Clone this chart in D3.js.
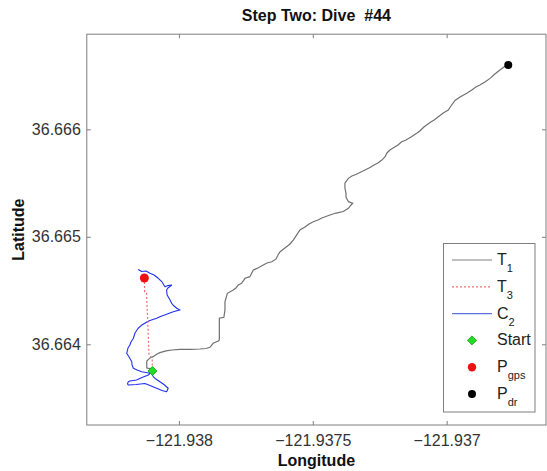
<!DOCTYPE html>
<html>
<head>
<meta charset="utf-8">
<script src="https://cdn.jsdelivr.net/npm/d3@7"></script>
<style>
  body { margin: 0; background: #fff; }
  text { font-family: "Liberation Sans", Arial, sans-serif; }
</style>
</head>
<body>
<div id="chart"></div>
<script>
// axis ticks
var lonTicks = [-121.938, -121.9375, -121.937];
var latTicks = [36.664, 36.665, 36.666];

// T1: dead-reckoned track (lon, lat)
var t1Track = [
  [-121.938100, 36.663770], [-121.938112, 36.663775], [-121.938120, 36.663780],
  [-121.938120, 36.663817], [-121.938120, 36.663845], [-121.938108, 36.663873],
  [-121.938096, 36.663885], [-121.938082, 36.663910], [-121.938071, 36.663922],
  [-121.938048, 36.663938], [-121.938026, 36.663947], [-121.937996, 36.663953],
  [-121.937959, 36.663953], [-121.937921, 36.663956], [-121.937899, 36.663961],
  [-121.937884, 36.663972], [-121.937872, 36.664009], [-121.937853, 36.664031],
  [-121.937849, 36.664040], [-121.937849, 36.664133], [-121.937849, 36.664242],
  [-121.937832, 36.664251], [-121.937828, 36.664319], [-121.937828, 36.664396],
  [-121.937819, 36.664474], [-121.937797, 36.664505], [-121.937787, 36.664524],
  [-121.937778, 36.664552], [-121.937766, 36.664567], [-121.937753, 36.664614],
  [-121.937735, 36.664629], [-121.937722, 36.664691], [-121.937705, 36.664710],
  [-121.937685, 36.664738], [-121.937671, 36.664756], [-121.937653, 36.664768],
  [-121.937637, 36.664794], [-121.937630, 36.664831], [-121.937622, 36.664861],
  [-121.937604, 36.664896], [-121.937585, 36.664933], [-121.937573, 36.664970],
  [-121.937563, 36.665007], [-121.937548, 36.665063], [-121.937529, 36.665091],
  [-121.937514, 36.665119], [-121.937498, 36.665140], [-121.937481, 36.665156],
  [-121.937466, 36.665175], [-121.937451, 36.665189], [-121.937436, 36.665203],
  [-121.937413, 36.665221], [-121.937386, 36.665235], [-121.937367, 36.665265],
  [-121.937357, 36.665296], [-121.937351, 36.665312], [-121.937367, 36.665327],
  [-121.937376, 36.665370], [-121.937376, 36.665405], [-121.937380, 36.665454],
  [-121.937380, 36.665498], [-121.937367, 36.665544], [-121.937354, 36.665566],
  [-121.937339, 36.665580], [-121.937324, 36.665598], [-121.937305, 36.665621],
  [-121.937290, 36.665640], [-121.937274, 36.665663], [-121.937257, 36.665687],
  [-121.937242, 36.665714], [-121.937230, 36.665745], [-121.937223, 36.665780],
  [-121.937212, 36.665807], [-121.937197, 36.665831], [-121.937182, 36.665854],
  [-121.937168, 36.665885], [-121.937152, 36.665900], [-121.937133, 36.665928],
  [-121.937112, 36.665963], [-121.937100, 36.665984], [-121.937085, 36.666021],
  [-121.937075, 36.666040], [-121.937062, 36.666063], [-121.937047, 36.666087],
  [-121.937025, 36.666128], [-121.937010, 36.666156], [-121.936994, 36.666180],
  [-121.936984, 36.666217], [-121.936969, 36.666268], [-121.936950, 36.666300],
  [-121.936925, 36.666335], [-121.936906, 36.666366], [-121.936891, 36.666393],
  [-121.936876, 36.666412], [-121.936857, 36.666440], [-121.936838, 36.666474],
  [-121.936820, 36.666514], [-121.936801, 36.666552], [-121.936786, 36.666580],
  [-121.936770, 36.666598]
];

// T3: correction line (lon, lat)
var t3Track = [
  [-121.938129, 36.664617], [-121.938128, 36.664487], [-121.938121, 36.664477],
  [-121.938115, 36.664133], [-121.938112, 36.663900], [-121.938100, 36.663873],
  [-121.938099, 36.663752]
];

// C2: corrected track (lon, lat)
var c2Track = [
  [-121.938152, 36.664696], [-121.938139, 36.664677], [-121.938123, 36.664682],
  [-121.938108, 36.664660], [-121.938093, 36.664645], [-121.938077, 36.664614],
  [-121.938063, 36.664580], [-121.938052, 36.664536], [-121.938041, 36.664547],
  [-121.938027, 36.664552], [-121.938041, 36.664524], [-121.938046, 36.664505],
  [-121.938044, 36.664459], [-121.938033, 36.664412], [-121.938027, 36.664381],
  [-121.938018, 36.664356], [-121.938008, 36.664335], [-121.937996, 36.664319],
  [-121.938011, 36.664310], [-121.938021, 36.664303], [-121.938046, 36.664279],
  [-121.938071, 36.664257], [-121.938083, 36.664242], [-121.938108, 36.664221],
  [-121.938120, 36.664207], [-121.938138, 36.664180], [-121.938152, 36.664149],
  [-121.938164, 36.664105], [-121.938170, 36.664056], [-121.938179, 36.664021],
  [-121.938183, 36.663993], [-121.938190, 36.663966], [-121.938195, 36.663916],
  [-121.938186, 36.663882], [-121.938176, 36.663838], [-121.938175, 36.663807],
  [-121.938170, 36.663777], [-121.938156, 36.663761], [-121.938139, 36.663745],
  [-121.938123, 36.663738], [-121.938108, 36.663730], [-121.938114, 36.663714],
  [-121.938138, 36.663691], [-121.938158, 36.663668], [-121.938183, 36.663659],
  [-121.938189, 36.663652], [-121.938192, 36.663631], [-121.938189, 36.663621],
  [-121.938160, 36.663626], [-121.938127, 36.663635], [-121.938108, 36.663617],
  [-121.938083, 36.663591], [-121.938063, 36.663570], [-121.938046, 36.663559],
  [-121.938040, 36.663591], [-121.938056, 36.663626], [-121.938071, 36.663652],
  [-121.938089, 36.663682], [-121.938096, 36.663699], [-121.938102, 36.663730],
  [-121.938102, 36.663770]
];

var startPt = [-121.938099, 36.663752];
var gpsPt = [-121.938129, 36.664617];
var drPt = [-121.936770, 36.666598];

var legendLabels = [["T", "1"], ["T", "3"], ["C", "2"], ["Start", ""], ["P", "gps"], ["P", "dr"]];

function init(){
    var W = 547, H = 471;
    var left = 86.8, right = 546, top = 34.2, bottom = 425;

    var svg = d3.select("#chart").append("svg")
        .attr("width", W)
        .attr("height", H);

    var x = d3.scaleLinear()
        .domain([-121.938344, -121.936629])
        .range([left, right]);
    var y = d3.scaleLinear()
        .domain([36.663249, 36.666885])
        .range([bottom, top]);

    var frameColor = "#7f7f7f";
    var fmt = function(d){ return d3.format(".7~f")(d); };

    // frame
    svg.append("rect")
        .attr("x", left).attr("y", top)
        .attr("width", right - left).attr("height", bottom - top)
        .attr("fill", "none").attr("stroke", frameColor).attr("stroke-width", 1);

    // axes (ticks pointing inward)
    var xAxis = svg.append("g").attr("transform", "translate(0," + bottom + ")")
        .call(d3.axisBottom(x).tickValues(lonTicks).tickSize(-4).tickPadding(10).tickFormat(fmt));
    var xTop = svg.append("g").attr("transform", "translate(0," + top + ")")
        .call(d3.axisTop(x).tickValues(lonTicks).tickSize(-4).tickFormat(""));
    var yAxis = svg.append("g").attr("transform", "translate(" + left + ",0)")
        .call(d3.axisLeft(y).tickValues(latTicks).tickSize(-4).tickPadding(6).tickFormat(d3.format(".3f")));
    var yRight = svg.append("g").attr("transform", "translate(" + right + ",0)")
        .call(d3.axisRight(y).tickValues(latTicks).tickSize(-4).tickFormat(""));

    [xAxis, xTop, yAxis, yRight].forEach(function(g){
        g.select(".domain").remove();
        g.selectAll(".tick line").attr("stroke", frameColor);
        g.selectAll(".tick text")
            .attr("fill", "#333")
            .style("font-size", "16px")
            .style("font-family", "'Liberation Sans', Arial, sans-serif");
    });

    var line = d3.line()
        .x(function(d){ return x(d[0]); })
        .y(function(d){ return y(d[1]); });

    // C2 corrected track
    svg.append("path")
        .datum(c2Track)
        .attr("d", line)
        .attr("fill", "none")
        .attr("stroke", "#2030f0")
        .attr("stroke-width", 1.1)
        .attr("stroke-linejoin", "round");

    // T1 track
    svg.append("path")
        .datum(t1Track)
        .attr("d", line)
        .attr("fill", "none")
        .attr("stroke", "#707070")
        .attr("stroke-width", 1.2);

    // T3 dashed
    svg.append("path")
        .datum(t3Track)
        .attr("d", line)
        .attr("fill", "none")
        .attr("stroke", "#e87070")
        .attr("stroke-width", 1.2)
        .attr("stroke-dasharray", "2,2");

    // points (diamond = square turned 45deg)
    var diamond = d3.symbol().type(d3.symbolSquare).size(40);
    svg.append("path")
        .attr("d", diamond)
        .attr("transform", "translate(" + x(startPt[0]) + "," + y(startPt[1]) + ") rotate(45)")
        .attr("fill", "#22dd22").attr("stroke", "#159915").attr("stroke-width", 0.8);
    svg.append("circle")
        .attr("cx", x(gpsPt[0])).attr("cy", y(gpsPt[1])).attr("r", 4.5)
        .attr("fill", "#ee1111");
    svg.append("circle")
        .attr("cx", x(drPt[0])).attr("cy", y(drPt[1])).attr("r", 4)
        .attr("fill", "#000");

    // title and axis labels
    svg.append("text")
        .attr("x", (left + right) / 2).attr("y", 21)
        .attr("text-anchor", "middle")
        .style("font-size", "16px").style("font-weight", "bold")
        .style("white-space", "pre")
        .attr("fill", "#111")
        .text("Step Two: Dive  #44");
    svg.append("text")
        .attr("x", (left + right) / 2).attr("y", 466)
        .attr("text-anchor", "middle")
        .style("font-size", "16px").style("font-weight", "bold")
        .attr("fill", "#111")
        .text("Longitude");
    svg.append("text")
        .attr("transform", "translate(23.5," + (top + bottom) / 2 + ") rotate(-90)")
        .attr("text-anchor", "middle")
        .style("font-size", "16px").style("font-weight", "bold")
        .attr("fill", "#111")
        .text("Latitude");

    // legend
    var lg = svg.append("g");
    lg.append("rect")
        .attr("x", 443.5).attr("y", 243.5)
        .attr("width", 91.5).attr("height", 168.5)
        .attr("fill", "#fff").attr("stroke", frameColor);

    var rowY = function(i){ return 260 + i * 26.8; };
    var lineStyles = [
        { stroke: "#808080", dash: null },
        { stroke: "#e87070", dash: "2,2" },
        { stroke: "#6070e0", dash: null }
    ];
    lineStyles.forEach(function(s, i){
        lg.append("line")
            .attr("x1", 452).attr("x2", 492)
            .attr("y1", rowY(i)).attr("y2", rowY(i))
            .attr("stroke", s.stroke).attr("stroke-width", 1.2)
            .attr("stroke-dasharray", s.dash);
    });
    lg.append("path")
        .attr("d", diamond)
        .attr("transform", "translate(472," + rowY(3) + ") rotate(45)")
        .attr("fill", "#22dd22").attr("stroke", "#159915").attr("stroke-width", 0.8);
    lg.append("circle").attr("cx", 472).attr("cy", rowY(4)).attr("r", 4.2).attr("fill", "#ee1111");
    lg.append("circle").attr("cx", 472).attr("cy", rowY(5)).attr("r", 4).attr("fill", "#000");

    legendLabels.forEach(function(l, i){
        var t = lg.append("text")
            .attr("x", 497).attr("y", rowY(i) + 5)
            .style("font-size", "16px")
            .attr("fill", "#222");
        t.append("tspan").text(l[0]);
        if (l[1]) {
            t.append("tspan")
                .attr("dy", 7)
                .style("font-size", "11px")
                .text(l[1]);
        }
    });
}

window.onload = init;
</script>
</body>
</html>
